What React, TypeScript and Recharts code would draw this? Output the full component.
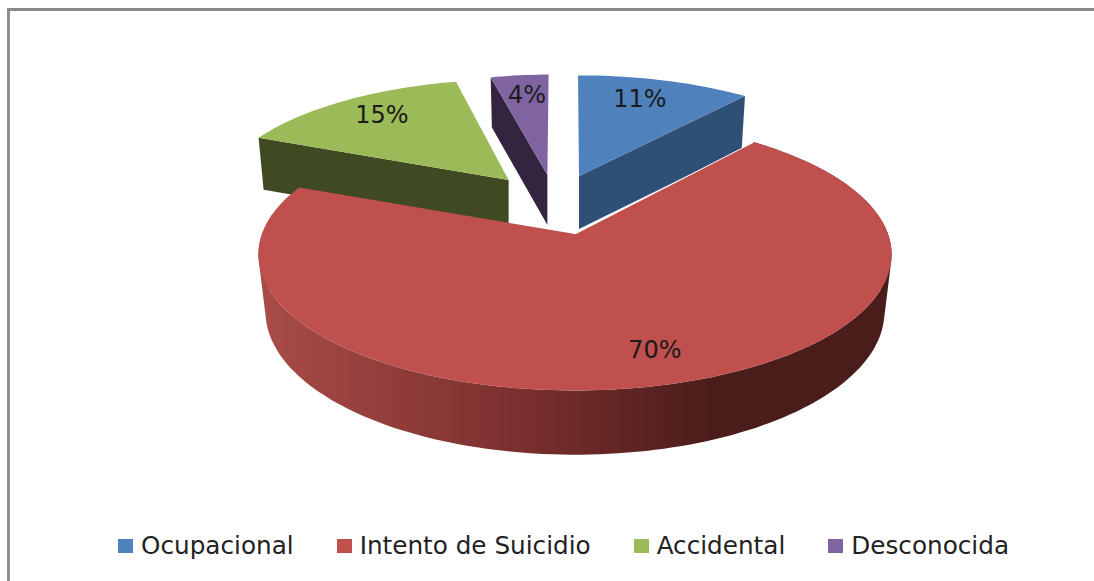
import { PieChart, Pie, Legend } from 'recharts';

const categories = ['Ocupacional', 'Intento de Suicidio', 'Accidental', 'Desconocida'];
const values = [11, 70, 15, 4];
const colors = ['#4F81BD', '#C0504D', '#9BBB59', '#8064A2'];
const sideColors = ['#2F5076', 'url(#redSide)', '#404A22', '#33253F'];

const tableData = categories.map((name, i) => ({ name, value: values[i], fill: colors[i] }));

// where each exploded slice ended up, relative to the pie centre
const sliceLayout: Record<string, any> = {
  Ocupacional: { ox: 4, oy: -58, a: 0.933, b: -0.009, d: 0.87, e: 0, depth: 53, cut: 'end', side: sideColors[0] },
  'Intento de Suicidio': { ox: 0, oy: 0, a: 1, b: 0, d: 1, e: 0, depth: 0, cut: '', side: sideColors[1] },
  Accidental: { ox: -66.4, oy: -54, a: 0.9215, b: 0.089, d: 0.87, e: -0.007, depth: 52, cut: 'start', side: sideColors[2] },
  Desconocida: { ox: -27.6, oy: -59, a: 0.851, b: 0.0104, d: 0.868, e: 0, depth: 50, cut: 'start', side: sideColors[3] },
};

const labelPos: Record<string, number[]> = {
  Ocupacional: [640, 99],
  'Intento de Suicidio': [655, 350],
  Accidental: [382, 115],
  Desconocida: [527, 95],
};

const PERSPECTIVE = 0.15;
const TILT = 133 / 313;
const FONT = '"DejaVu Sans", sans-serif';

// top disc of the pie with a bit of perspective
const flat = (r: number, deg: number, xScale = 1, yScale = TILT) => {
  const u = Math.cos((deg * Math.PI) / 180);
  const w = Math.sin((deg * Math.PI) / 180);
  const k = 1 + PERSPECTIVE * w;
  return [(r * xScale * u) / k, (r * yScale * w) / k];
};

const toPath = (pts: number[][]) =>
  pts.map((p, i) => `${i ? 'L' : 'M'}${p[0].toFixed(1)},${p[1].toFixed(1)}`).join(' ') + ' Z';

const arcAngles = (start: number, end: number) => {
  const out: number[] = [];
  const steps = Math.max(2, Math.ceil(Math.abs(end - start) / 1.5));
  for (let i = 0; i <= steps; i++) out.push(start + ((end - start) * i) / steps);
  return out;
};

// outer wall as one path of small quads, all wound the same way
const wallStrips = (upper: number[][], lower: number[][]) =>
  upper
    .slice(1)
    .map((p, i) => {
      const quad = [upper[i], p, lower[i + 1], lower[i]];
      const area = quad.reduce((sum, q, j) => {
        const n = quad[(j + 1) % 4];
        return sum + q[0] * n[1] - n[0] * q[1];
      }, 0);
      return toPath(area < 0 ? quad.reverse() : quad);
    })
    .join(' ');

const Slice3D = (props: any) => {
  const { cx, cy, outerRadius, startAngle, endAngle, fill, name } = props;
  const s = sliceLayout[name];
  const place = (p: number[]) => [
    cx + s.ox + s.a * p[0] + s.b * p[1],
    cy + s.oy - (s.d * p[1] + s.e * p[0]),
  ];
  const apex = [cx + s.ox, cy + s.oy];
  const rim = arcAngles(startAngle, endAngle).map((deg) => place(flat(outerRadius, deg)));
  const top = toPath([apex, ...rim]);

  if (s.depth === 0) {
    // the big slice: outer wall comes from a lower, slightly narrower disc
    const lower = arcAngles(startAngle, endAngle).map((deg) => {
      const p = flat(outerRadius, deg, 306 / 313, 140 / 313);
      return [cx + p[0], cy + 56 - p[1]];
    });
    const edge = `M${apex[0]},${apex[1]} L${rim[0][0]},${rim[0][1]}`;
    return (
      <g>
        <defs>
          <linearGradient
            id="redSide"
            gradientUnits="userSpaceOnUse"
            x1={cx - outerRadius}
            y1={0}
            x2={cx + outerRadius}
            y2={0}
          >
            <stop offset="0" stopColor="#A84C48" />
            <stop offset="0.4" stopColor="#7C302E" />
            <stop offset="0.72" stopColor="#4A1D1B" />
            <stop offset="1" stopColor="#4A1D1B" />
          </linearGradient>
        </defs>
        <path d={wallStrips(rim, lower)} fill={s.side} />
        <path d={top} fill={fill} />
        <path d={edge} fill="none" stroke="#fff" strokeWidth={1} />
      </g>
    );
  }

  const cutPoint = s.cut === 'end' ? rim[rim.length - 1] : rim[0];
  const down = (p: number[]) => [apex[0] + (p[0] - apex[0]) * 0.98, p[1] + s.depth];
  const wall = toPath([apex, cutPoint, down(cutPoint), down(apex)]);
  return (
    <g>
      <path d={wall} fill={s.side} />
      <path d={top} fill={fill} />
    </g>
  );
};

const BackSlice = (props: any) => (sliceLayout[props.name].depth ? <Slice3D {...props} /> : <g />);
const FrontSlice = (props: any) => (sliceLayout[props.name].depth ? <g /> : <Slice3D {...props} />);

const renderPercent = (props: any) => {
  const pos = labelPos[props.name];
  return (
    <text
      x={pos[0]}
      y={pos[1]}
      textAnchor="middle"
      dominantBaseline="central"
      fontFamily={FONT}
      fontSize={24}
      fill="#1a1a1a"
    >
      {`${Math.round(props.percent * 100)}%`}
    </text>
  );
};

const renderLegend = (props: any) => {
  const items = categories.map((c) => props.payload.find((p: any) => p.value === c)).filter(Boolean);
  return (
    <div style={{ display: 'flex', gap: 43, fontFamily: FONT, fontSize: 24.7, color: '#222', lineHeight: '30px' }}>
      {items.map((item: any) => (
        <div key={item.value} style={{ display: 'flex', alignItems: 'center', whiteSpace: 'nowrap' }}>
          <span style={{ width: 15, height: 14, background: item.color, marginRight: 8 }} />
          {item.value}
        </div>
      ))}
    </div>
  );
};

export default function App() {
  return (
    <div style={{ position: 'fixed', left: 0, top: 0, width: 1094, height: 581, overflow: 'hidden', background: '#fff' }}>
      <div
        style={{
          position: 'absolute',
          left: 7,
          top: 8,
          width: 1200,
          height: 700,
          borderLeft: '3px solid #8f8f8f',
          borderTop: '3px solid #8a8a8a',
        }}
      />
      <PieChart width={1094} height={581} margin={{ top: 0, right: 0, bottom: 0, left: 0 }}>
        <Pie
          data={tableData}
          dataKey="value"
          nameKey="name"
          cx={575}
          cy={234}
          outerRadius={313}
          startAngle={90}
          endAngle={-270}
          shape={BackSlice}
          isAnimationActive={false}
        />
        <Pie
          data={tableData}
          dataKey="value"
          nameKey="name"
          cx={575}
          cy={234}
          outerRadius={313}
          startAngle={90}
          endAngle={-270}
          shape={FrontSlice}
          legendType="none"
          label={renderPercent}
          labelLine={false}
          isAnimationActive={false}
        />
        <Legend content={renderLegend} wrapperStyle={{ left: 118, top: 531, width: 'auto' }} />
      </PieChart>
    </div>
  );
}
